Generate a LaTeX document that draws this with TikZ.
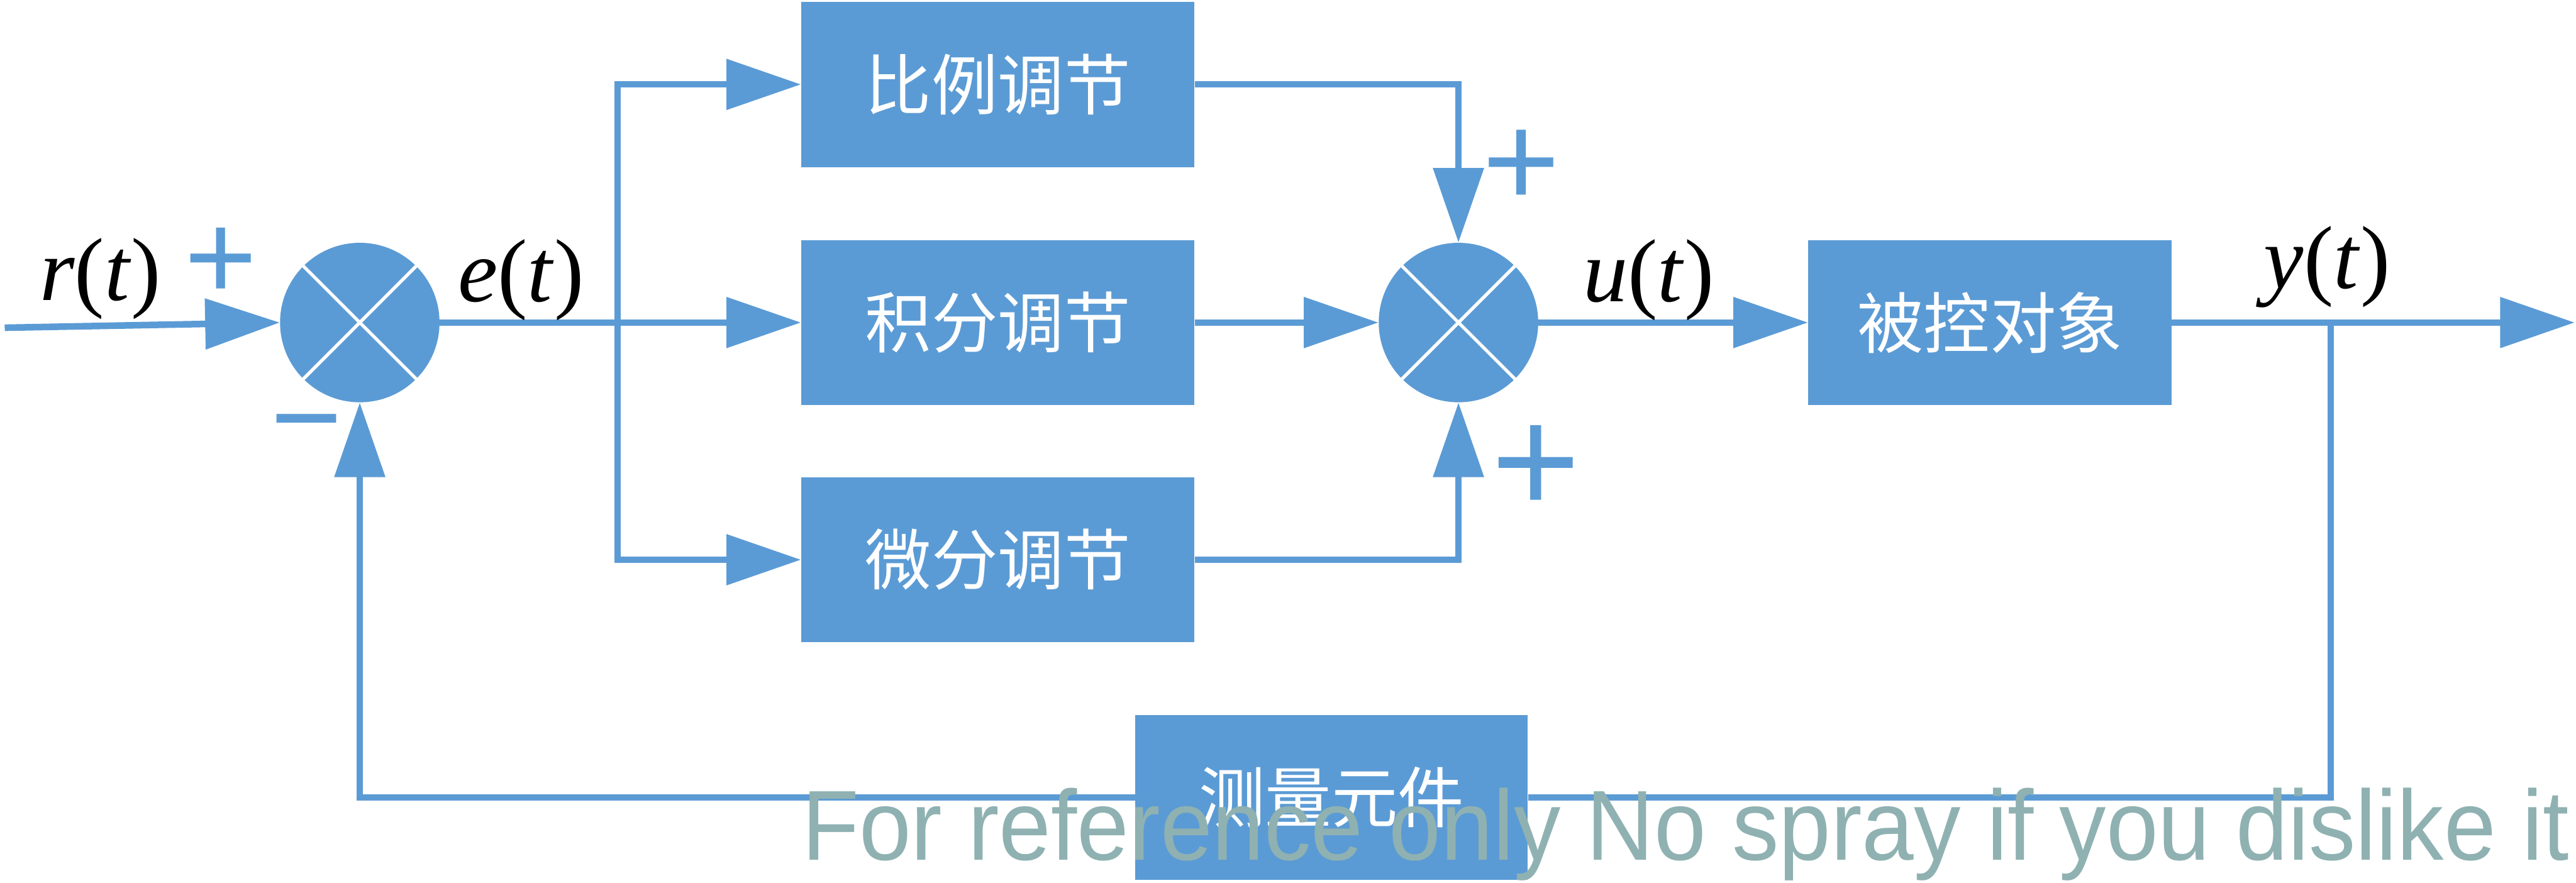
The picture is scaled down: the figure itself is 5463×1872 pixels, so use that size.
\documentclass[tikz,border=0pt]{standalone}
\usepackage{fontspec}
\setmainfont{Liberation Serif}
\newfontfamily\cjk{Noto Sans CJK SC}
\newfontfamily\arial{Liberation Sans}
\usetikzlibrary{arrows.meta,calc}
\definecolor{pidblue}{HTML}{5B9BD5}
\definecolor{wmark}{HTML}{8FB1B1}
\begin{document}
\begin{tikzpicture}[x=0.01cm,y=-0.01cm,
  wire/.style={draw=pidblue, line width=0.14cm},
  flow/.style={wire, -{Triangle[length=1.58cm,width=1.05cm]}},
  blk/.style={fill=pidblue, draw=none, minimum width=8.33cm, minimum height=3.5cm, inner sep=0pt, font=\cjk\fontsize{40}{48}\selectfont, text=white},
  sumj/.style={circle, fill=pidblue, minimum size=3.38cm, inner sep=0pt},
  sig/.style={font=\fontsize{54}{60}\selectfont, inner sep=0pt, anchor=base},
  sgn/.style={text=pidblue, inner sep=0pt},
  xline/.style={draw=white, line width=0.07cm}
]
\useasboundingbox (0,0) rectangle (5463,1872);

% summing junctions
\node[sumj] (s1) at (763,684) {};
\node[sumj] (s2) at (3093,684) {};
\draw[xline] (s1.north west) -- (s1.south east);
\draw[xline] (s1.north east) -- (s1.south west);
\draw[xline] (s2.north west) -- (s2.south east);
\draw[xline] (s2.north east) -- (s2.south west);

% blocks
\node[blk] (P) at (2116,179) {比例调节};
\node[blk] (I) at (2116,684) {积分调节};
\node[blk] (D) at (2116,1187) {微分调节};
\node[blk, minimum width=7.7cm] (G) at (4220,684) {被控对象};

% coordinates
\coordinate (in) at (10,695);
\coordinate (br) at (1310,684);
\coordinate (yb) at (4943,684);
\coordinate (out) at (5460,684);

% connectors
\draw[flow] (in) -- (s1.west);
\draw[wire] (s1.east) -- (br);
\draw[flow] (br) -- (I.west);
\draw[flow] (br) |- (P.west);
\draw[flow] (br) |- (D.west);
\draw[flow] (P.east) -| (s2.north);
\draw[flow] (I.east) -- (s2.west);
\draw[flow] (D.east) -| (s2.south);
\draw[flow] (s2.east) -- (G.west);
\draw[flow] (G.east) -- (out);

% feedback
\node[blk, minimum width=8.32cm] (H) at (2824,1691) {测量元件};
\draw[wire] (yb) |- (H.east);
\draw[flow] (H.west) -| (s1.south);

% signal labels
\node[sig] (rl) at (213,637) {\textit{r}(\textit{t})};
\node[sig] (el) at (1105,639) {\textit{e}(\textit{t})};
\node[sig] (ul) at (3496,640) {\textit{u}(\textit{t})};
\node[sig] (yl) at (4935,612) {\textit{y}(\textit{t})};

% signs
\node[sgn, font=\arial\fontsize{75}{80}\selectfont] (p1) at (469,559) {+};
\node[sgn, font=\arial\fontsize{74}{80}\selectfont] (m1) at (650,927) {−};
\node[sgn, font=\arial\fontsize{80}{86}\selectfont] (p2) at (3226,357) {+};
\node[sgn, font=\arial\fontsize{92}{98}\selectfont] (p3) at (3258,995) {+};

% watermark
\node[anchor=base west, text=wmark, font=\arial\fontsize{60}{70}\selectfont, inner sep=0pt] (wm) at (1700,1824) {\scalebox{0.94}[1]{For reference only No spray if you dislike it}};
\end{tikzpicture}
\end{document}
